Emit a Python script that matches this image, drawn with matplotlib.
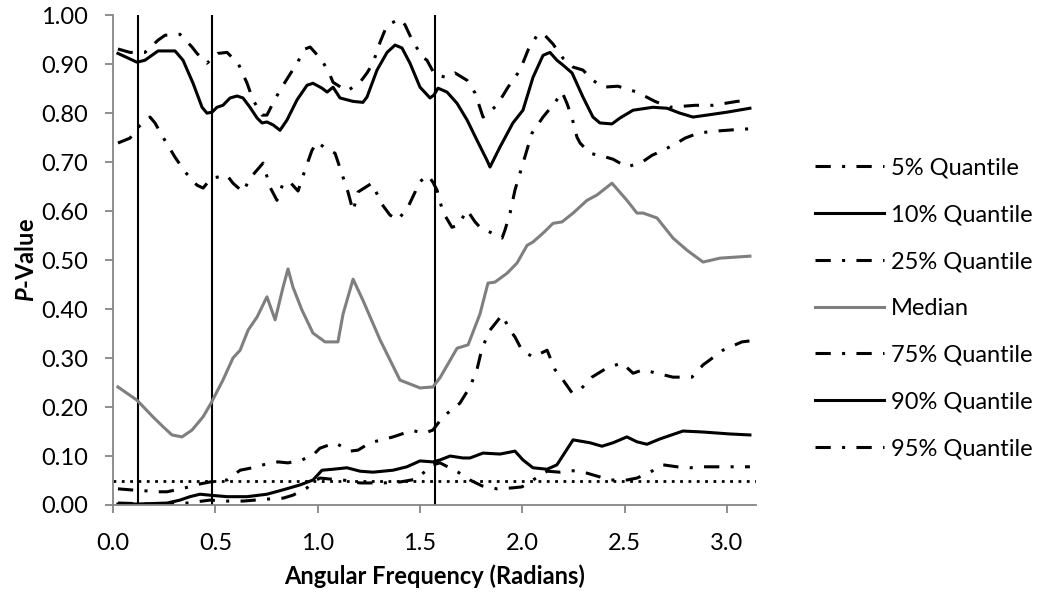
import matplotlib
matplotlib.use("Agg")
import matplotlib.pyplot as plt

plt.rcParams['font.family'] = ['Lato', 'DejaVu Sans']
plt.rcParams['mathtext.fontset'] = 'custom'
plt.rcParams['mathtext.bfit'] = 'Lato:bold:italic'

# angular frequency (radians) and p-value quantiles
p05_x = [0.024, 0.181, 0.264, 0.362, 0.474, 0.557, 0.635, 0.752, 0.831, 0.879,
         0.948, 0.977, 1.011, 1.060, 1.124, 1.207, 1.319, 1.402, 1.485, 1.515,
         1.563, 1.598, 1.686, 1.744, 1.803, 1.876, 1.954, 1.998, 2.121, 2.184,
         2.248, 2.316, 2.365, 2.428, 2.511, 2.560, 2.624, 2.687, 2.756, 2.819,
         2.892, 2.951, 3.024, 3.112]
p05_y = [.004, .002, .002, .004, .01, .008, .008, .012, .014, .02,
         .035, .047, .055, .053, .051, .045, .045, .047, .053, .065,
         .082, .086, .067, .051, .039, .033, .035, .037, .069, .067,
         .070, .065, .059, .051, .051, .055, .067, .082, .078, .076,
         .078, .078, .078, .078]

p10_x = [0.024, 0.117, 0.264, 0.327, 0.376, 0.425, 0.474, 0.557, 0.655, 0.752,
         0.831, 0.914, 0.977, 1.021, 1.075, 1.143, 1.207, 1.270, 1.368, 1.436,
         1.500, 1.563, 1.598, 1.647, 1.710, 1.744, 1.808, 1.891, 1.964, 2.003,
         2.052, 2.121, 2.169, 2.248, 2.331, 2.389, 2.443, 2.511, 2.560, 2.609,
         2.673, 2.785, 2.883, 3.015, 3.112]
p10_y = [.002, .002, .004, .01, .017, .022, .02, .017, .017, .022,
         .031, .041, .051, .071, .073, .076, .069, .067, .071, .078,
         .090, .088, .092, .10, .096, .096, .106, .104, .110, .092,
         .076, .073, .082, .133, .127, .120, .127, .139, .129, .124,
         .135, .151, .149, .145, .143]

p25_x = [0.024, 0.083, 0.156, 0.220, 0.264, 0.352, 0.425, 0.474, 0.557, 0.621,
         0.669, 0.733, 0.806, 0.855, 0.923, 0.977, 1.011, 1.085, 1.158, 1.197,
         1.256, 1.368, 1.461, 1.524, 1.563, 1.612, 1.695, 1.744, 1.778, 1.803,
         1.842, 1.901, 1.940, 1.964, 1.998, 2.052, 2.121, 2.160, 2.194, 2.243,
         2.282, 2.340, 2.414, 2.487, 2.541, 2.590, 2.638, 2.736, 2.829, 2.883,
         2.980, 3.073, 3.112]
p25_y = [.033, .031, .029, .027, .027, .035, .043, .047, .051, .071,
         .075, .082, .088, .086, .092, .102, .116, .127, .110, .112,
         .127, .139, .152, .147, .153, .18, .208, .241, .276, .32,
         .357, .388, .357, .343, .316, .302, .316, .276, .258, .229,
         .235, .261, .280, .290, .269, .276, .271, .261, .261, .286,
         .316, .333, .335]

median_x = [0.024, 0.117, 0.195, 0.244, 0.288, 0.337, 0.386, 0.440, 0.479, 0.537,
            0.586, 0.621, 0.660, 0.704, 0.752, 0.792, 0.831, 0.855, 0.879, 0.923,
            0.977, 1.036, 1.099, 1.124, 1.173, 1.221, 1.305, 1.402, 1.500, 1.563,
            1.598, 1.681, 1.735, 1.793, 1.832, 1.866, 1.925, 1.974, 2.023, 2.052,
            2.101, 2.150, 2.194, 2.248, 2.316, 2.365, 2.438, 2.511, 2.560, 2.590,
            2.658, 2.736, 2.805, 2.883, 2.966, 3.112]
median_y = [.241, .214, .18, .16, .143, .139, .153, .18, .208, .255,
            .30, .316, .357, .384, .425, .378, .445, .482, .445, .398,
            .351, .333, .333, .39, .461, .418, .337, .255, .239, .241,
            .26, .32, .327, .39, .453, .455, .473, .494, .53, .537,
            .555, .575, .578, .596, .622, .633, .657, .622, .596, .596,
            .586, .545, .52, .496, .504, .508]

p75_x = [0.024, 0.083, 0.122, 0.181, 0.205, 0.244, 0.303, 0.352, 0.410, 0.440,
         0.479, 0.557, 0.586, 0.635, 0.669, 0.733, 0.767, 0.801, 0.831, 0.865,
         0.904, 0.938, 0.972, 0.997, 1.036, 1.085, 1.124, 1.148, 1.173, 1.197,
         1.265, 1.314, 1.353, 1.392, 1.441, 1.476, 1.490, 1.539, 1.563, 1.583,
         1.612, 1.656, 1.686, 1.730, 1.769, 1.793, 1.852, 1.901, 1.915, 1.940,
         1.964, 1.989, 2.047, 2.101, 2.160, 2.194, 2.218, 2.243, 2.267, 2.282,
         2.331, 2.394, 2.443, 2.511, 2.585, 2.634, 2.687, 2.756, 2.795, 2.858,
         2.932, 3.000, 3.063, 3.112]
p75_y = [.739, .749, .771, .792, .78, .751, .71, .68, .653, .647,
         .667, .673, .657, .639, .667, .698, .649, .622, .657, .659,
         .641, .684, .724, .741, .729, .718, .669, .639, .60, .639,
         .657, .614, .592, .582, .608, .639, .657, .673, .659, .643,
         .598, .567, .571, .602, .578, .567, .555, .545, .561, .596,
         .643, .678, .759, .792, .822, .843, .820, .790, .751, .739,
         .718, .712, .706, .690, .70, .714, .724, .739, .749, .759,
         .763, .765, .767, .768]

p90_x = [0.024, 0.117, 0.156, 0.220, 0.303, 0.342, 0.391, 0.435, 0.459, 0.484,
         0.508, 0.537, 0.572, 0.606, 0.635, 0.669, 0.704, 0.728, 0.752, 0.782,
         0.816, 0.850, 0.899, 0.948, 0.977, 1.021, 1.046, 1.075, 1.109, 1.173,
         1.221, 1.241, 1.290, 1.339, 1.378, 1.412, 1.451, 1.500, 1.549, 1.568,
         1.588, 1.632, 1.681, 1.730, 1.778, 1.827, 1.842, 1.891, 1.954, 2.003,
         2.052, 2.101, 2.135, 2.169, 2.199, 2.243, 2.296, 2.345, 2.379, 2.438,
         2.477, 2.541, 2.638, 2.707, 2.770, 2.834, 2.902, 3.000, 3.112]
p90_y = [.922, .904, .908, .927, .927, .908, .861, .812, .80, .802,
         .812, .816, .831, .835, .831, .812, .790, .78, .782, .776,
         .765, .786, .827, .857, .861, .851, .843, .853, .831, .824,
         .822, .833, .888, .924, .939, .933, .902, .853, .831, .837,
         .851, .843, .820, .786, .745, .704, .69, .731, .78, .806,
         .873, .918, .924, .908, .898, .882, .833, .792, .78, .778,
         .79, .806, .812, .810, .80, .792, .796, .802, .81]

p95_x = [0.024, 0.083, 0.156, 0.220, 0.254, 0.327, 0.386, 0.410, 0.459, 0.513,
         0.557, 0.611, 0.655, 0.684, 0.728, 0.752, 0.792, 0.831, 0.899, 0.938,
         0.963, 1.021, 1.060, 1.075, 1.143, 1.207, 1.241, 1.270, 1.305, 1.339,
         1.402, 1.427, 1.466, 1.515, 1.534, 1.573, 1.632, 1.671, 1.730, 1.769,
         1.808, 1.876, 1.930, 1.989, 2.028, 2.072, 2.101, 2.150, 2.199, 2.248,
         2.296, 2.345, 2.394, 2.467, 2.560, 2.648, 2.721, 2.844, 2.932, 3.049,
         3.112]
p95_y = [.931, .924, .924, .949, .959, .961, .935, .922, .902, .922,
         .924, .902, .861, .827, .796, .796, .829, .857, .902, .931,
         .935, .908, .878, .863, .845, .863, .882, .902, .945, .98,
         .992, .98, .945, .914, .908, .878, .873, .882, .867, .841,
         .792, .816, .853, .888, .929, .959, .963, .941, .912, .894,
         .888, .867, .853, .855, .843, .824, .812, .816, .816, .824,
         .826]

ref_freqs = [0.121, 0.483, 1.571]   # yearly, quarterly, pi/2
alpha = 0.05

dashdot = (0, (5, 3.7, 1, 3.7))
lw = 2.2
fs = 17

fig = plt.figure(figsize=(10.37, 5.93), dpi=100)
ax = fig.add_axes([0.109, 0.1484, 0.620, 0.826])

for xv in ref_freqs:
    ax.axvline(xv, color='black', lw=1.5, zorder=1)
ax.axhline(alpha, color='black', lw=2.0, linestyle=(0, (1, 2)), zorder=1)

ax.plot(p05_x, p05_y, color='black', lw=lw, linestyle=dashdot, label='5% Quantile')
ax.plot(p10_x, p10_y, color='black', lw=lw, label='10% Quantile')
ax.plot(p25_x, p25_y, color='black', lw=lw, linestyle=dashdot, label='25% Quantile')
ax.plot(median_x, median_y, color='#7f7f7f', lw=lw, label='Median')
ax.plot(p75_x, p75_y, color='black', lw=lw, linestyle=dashdot, label='75% Quantile')
ax.plot(p90_x, p90_y, color='black', lw=lw, label='90% Quantile')
ax.plot(p95_x, p95_y, color='black', lw=lw, linestyle=dashdot, label='95% Quantile')

ax.set_xlim(0, 3.1416)
ax.set_ylim(0, 1.0)
ax.set_xticks([0, 0.5, 1.0, 1.5, 2.0, 2.5, 3.0])
ax.set_xticklabels(['0.0', '0.5', '1.0', '1.5', '2.0', '2.5', '3.0'])
ax.set_yticks([i / 10 for i in range(11)])
ax.set_yticklabels(['%.2f' % (i / 10) for i in range(11)])
ax.tick_params(axis='both', colors='#868686', labelcolor='black', labelsize=fs,
               length=6, width=1.3)
ax.tick_params(axis='x', pad=14)
ax.tick_params(axis='y', pad=12)
for side in ['top', 'right']:
    ax.spines[side].set_visible(False)
for side in ['left', 'bottom']:
    ax.spines[side].set_color('#868686')
    ax.spines[side].set_linewidth(1.3)

ax.set_xlabel('Angular Frequency (Radians)', fontsize=fs, fontweight='bold', labelpad=8)
ax.set_ylabel(r'$\mathbfit{P}$-Value', fontsize=fs, fontweight='bold', labelpad=2)

ax.legend(loc='upper left', bbox_to_anchor=(0.777, 0.750), bbox_transform=fig.transFigure,
          frameon=False, fontsize=fs, handlelength=2.9, handletextpad=0.3,
          labelspacing=1.09, borderaxespad=0)

fig.savefig('out.png', dpi=100)
